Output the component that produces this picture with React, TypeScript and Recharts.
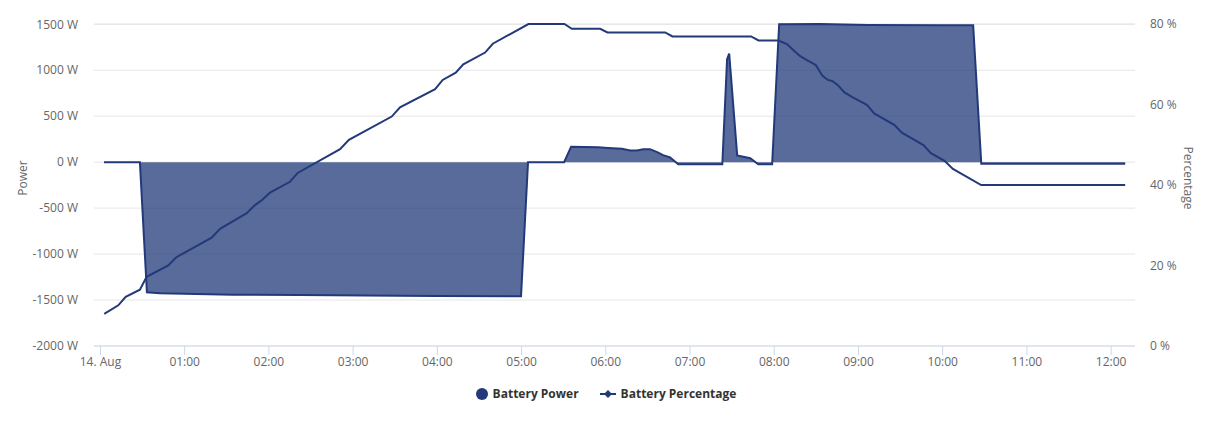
import React from 'react';
import { ComposedChart, Area, Line, XAxis, YAxis, CartesianGrid } from 'recharts';

// Time in minutes after 14. Aug 00:00
const powerTimes = [2.5, 28.1, 33.1, 42.4, 94.4, 142, 213, 240, 299.6, 304.6, 330.3, 335.3, 345, 354.5, 361.6, 371.6, 377.3, 382.3, 386.6, 391.5, 396.6, 400.8, 405.8, 411.6, 443, 446.4, 447.9, 453.6, 462.9, 468.6, 478.5, 483.5, 512.7, 546.2, 600.3, 621.7, 627.5, 730];
const powerValues = [0, 0, -1416, -1425, -1442, -1445, -1453, -1457, -1460, 0, 0, 167, 165, 163, 155, 145, 127, 127, 141, 141, 109, 76, 51, -22, -22, 1120, 1180, 73, 43, -22, -22, 1500, 1503, 1492, 1489, 1489, -18, -18];

const pctTimes = [2.7, 12.7, 18, 28.1, 32.9, 48.3, 53.8, 79.2, 85.2, 104.2, 110.1, 114.9, 120.8, 135, 140.5, 170.7, 177, 207.5, 213.4, 238.4, 243.8, 253.1, 258.5, 274, 279.5, 304.9, 330.5, 335.8, 356, 361.2, 402.3, 407.5, 463.5, 468.8, 483, 489, 494.9, 498.5, 503.2, 505.6, 509.6, 514.4, 518.2, 521.5, 525.3, 530, 535.3, 546, 551.2, 565.7, 570.9, 586.3, 591.6, 601.3, 607.3, 627.4, 730];
const pctValues = [8.0, 10.1, 12.2, 14.0, 17.2, 20.0, 22.0, 26.9, 29.1, 33.0, 35.0, 36.2, 38.1, 40.8, 43.0, 48.9, 51.2, 57.0, 59.3, 63.8, 66.1, 67.9, 70.0, 72.9, 75.1, 80, 80, 78.8, 78.8, 77.9, 77.9, 76.9, 76.9, 75.9, 75.9, 75.0, 73.1, 72.0, 71.0, 70.6, 69.8, 67.1, 66.1, 65.8, 64.8, 63.0, 61.9, 59.9, 57.8, 54.9, 53.0, 49.9, 47.9, 46.0, 44.0, 40.0, 40.0];

const xTicks = [0, 60, 120, 180, 240, 300, 360, 420, 480, 540, 600, 660, 720];
const powerTicks = [-2000, -1500, -1000, -500, 0, 500, 1000, 1500];
const pctTicks = [0, 20, 40, 60, 80];
const seriesNames = ['Battery Power', 'Battery Percentage'];

const COLOR = '#22397a';
const FONT = '"Open Sans", sans-serif';

type Row = { t: number; power?: number; pct?: number };
const table: Row[] = (() => {
  const m = new Map<number, Row>();
  powerTimes.forEach((t, i) => {
    const r = m.get(t) || { t };
    r.power = powerValues[i];
    m.set(t, r);
  });
  pctTimes.forEach((t, i) => {
    const r = m.get(t) || { t };
    r.pct = pctValues[i];
    m.set(t, r);
  });
  return Array.from(m.values()).sort((a, b) => a.t - b.t);
})();

const fmtTime = (v: number) => {
  if (v === 0) return '14. Aug';
  const h = Math.floor(v / 60);
  const mm = Math.round(v % 60);
  return `${String(h).padStart(2, '0')}:${String(mm).padStart(2, '0')}`;
};

const tickStyle = { fill: '#666666', fontSize: 12, fontFamily: FONT };

export default function App() {
  return (
    <div style={{ position: 'relative', width: 1196, height: 408, fontFamily: FONT }}>
      <ComposedChart
        width={1196}
        height={408}
        data={table}
        margin={{ top: 16, right: 0, bottom: 40, left: 0 }}
      >
        <CartesianGrid horizontal vertical={false} stroke="#e6e6e6" yAxisId="power" />
        <XAxis
          dataKey="t"
          type="number"
          domain={[-4.6, 737]}
          allowDataOverflow
          ticks={xTicks}
          tickFormatter={fmtTime}
          tick={tickStyle}
          stroke="#ccd6eb"
          tickSize={9}
          tickMargin={2}
          height={30}
        />
        <YAxis
          yAxisId="power"
          orientation="left"
          type="number"
          domain={[-2000, 1500]}
          ticks={powerTicks}
          tickFormatter={(v: number) => `${v} W`}
          tick={tickStyle}
          axisLine={false}
          tickLine={false}
          tickSize={0}
          tickMargin={16}
          width={86}
          label={() => (
            <text
              x={14}
              y={170}
              transform="rotate(-90 14 170)"
              textAnchor="middle"
              dominantBaseline="central"
              fill="#666666"
              fontSize={12}
              fontFamily={FONT}
            >
              Power
            </text>
          )}
        />
        <YAxis
          yAxisId="pct"
          orientation="right"
          type="number"
          domain={[0, 80]}
          ticks={pctTicks}
          tickFormatter={(v: number) => `${v} %`}
          tick={tickStyle}
          axisLine={false}
          tickLine={false}
          tickSize={0}
          tickMargin={15}
          width={69}
          label={() => (
            <text
              x={1180}
              y={170}
              transform="rotate(90 1180 170)"
              textAnchor="middle"
              dominantBaseline="central"
              fill="#666666"
              fontSize={12}
              fontFamily={FONT}
            >
              Percentage
            </text>
          )}
        />
        <Area
          yAxisId="power"
          type="linear"
          dataKey="power"
          name={seriesNames[0]}
          stroke={COLOR}
          strokeWidth={2}
          fill={COLOR}
          fillOpacity={0.75}
          connectNulls
          dot={false}
          activeDot={false}
          isAnimationActive={false}
        />
        <Line
          yAxisId="pct"
          type="linear"
          dataKey="pct"
          name={seriesNames[1]}
          stroke={COLOR}
          strokeWidth={2}
          connectNulls
          dot={false}
          activeDot={false}
          isAnimationActive={false}
        />
      </ComposedChart>
      <div
        style={{
          position: 'absolute',
          top: 378,
          left: 0,
          width: 1196,
          display: 'flex',
          justifyContent: 'center',
          alignItems: 'center',
          fontFamily: FONT,
          fontSize: 12,
          fontWeight: 700,
          color: '#333333',
          lineHeight: '16px',
        }}
      >
        <div style={{ display: 'flex', alignItems: 'center', marginRight: 21 }}>
          <svg width={12} height={12} style={{ marginRight: 5 }}>
            <circle cx={6} cy={6} r={6} fill={COLOR} />
          </svg>
          <span>{seriesNames[0]}</span>
        </div>
        <div style={{ display: 'flex', alignItems: 'center' }}>
          <svg width={16} height={10} style={{ marginRight: 5 }}>
            <line x1={0} y1={5} x2={16} y2={5} stroke={COLOR} strokeWidth={2} />
            <path d="M8 1 L12 5 L8 9 L4 5 Z" fill={COLOR} />
          </svg>
          <span>{seriesNames[1]}</span>
        </div>
      </div>
    </div>
  );
}
